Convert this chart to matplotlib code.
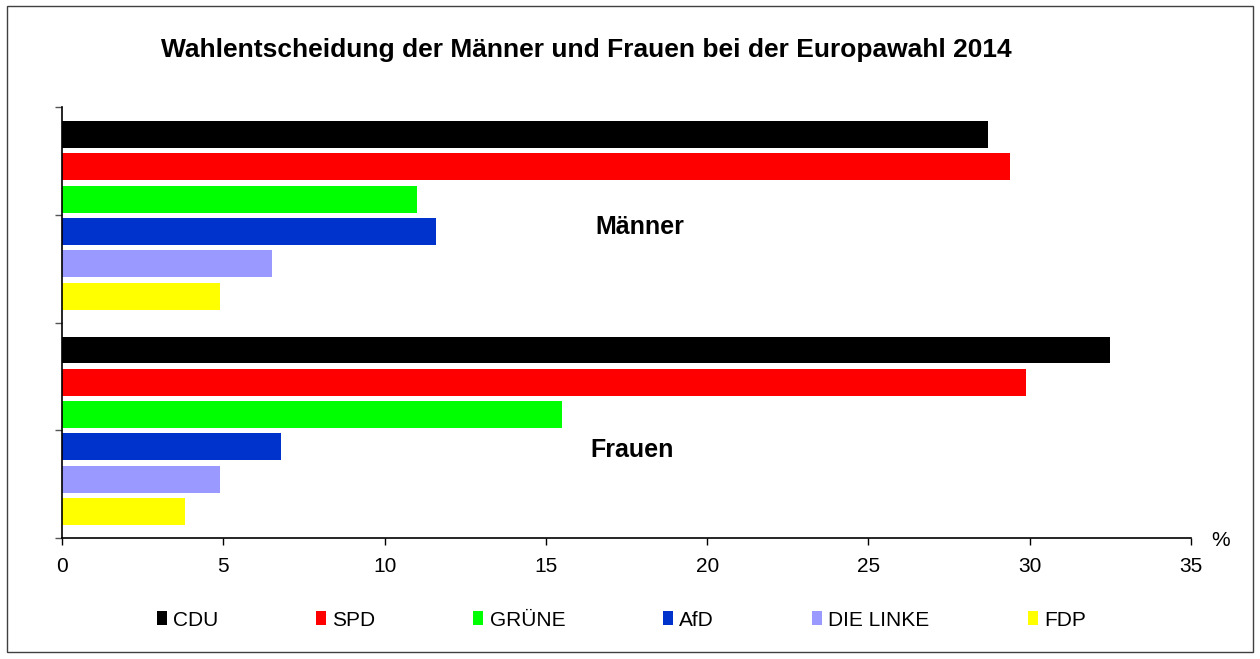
import numpy as np
import matplotlib
matplotlib.use("Agg")
import matplotlib.pyplot as plt
from matplotlib.patches import Rectangle

plt.rcParams["font.family"] = ["Liberation Sans", "DejaVu Sans"]

# data (percent of votes)
groups = ["Männer", "Frauen"]
parties = ["CDU", "SPD", "GRÜNE", "AfD", "DIE LINKE", "FDP"]
maenner = [28.7, 29.4, 11.0, 11.6, 6.5, 4.9]
frauen = [32.5, 29.9, 15.5, 6.8, 4.9, 3.8]
colors = ["#000000", "#FF0000", "#00FF00", "#0033CC", "#9999FF", "#FFFF00"]

fig = plt.figure(figsize=(12.6, 6.59), dpi=100)
ax = fig.add_axes([62 / 1260, 121 / 659, 1129 / 1260, 431 / 659])

# outer frame
fig.patches.append(Rectangle((7 / 1260, 7 / 659), 1246 / 1260, 646 / 659,
                             transform=fig.transFigure, fill=False,
                             edgecolor="#404040", linewidth=1.0))

pitch = 0.15
height = 0.125
first = 0.1275
for i, party in enumerate(parties):
    ypos = np.arange(len(groups)) + first + i * pitch
    ax.barh(ypos, [maenner[i], frauen[i]], height=height, color=colors[i],
            label=party, linewidth=0)

ax.set_xlim(0, 35)
ax.set_ylim(2, 0)
ax.set_xticks(np.arange(0, 36, 5))
ax.set_yticks([0, 0.5, 1, 1.5, 2])
ax.set_yticklabels([])
ax.tick_params(axis="x", direction="out", length=5, width=1, pad=9,
               labelsize=15)
ax.tick_params(axis="y", direction="out", length=5, width=1, color="#555555")
for s in ["top", "right"]:
    ax.spines[s].set_visible(False)
for s in ["left", "bottom"]:
    ax.spines[s].set_linewidth(1.2)

ax.text(17.9, 0.557, groups[0], fontsize=18, fontweight="bold",
        ha="center", va="center")
ax.text(17.67, 1.59, groups[1], fontsize=18, fontweight="bold",
        ha="center", va="center")

fig.text(1221 / 1260, (659 - 541) / 659, "%", fontsize=15,
         ha="center", va="center")
fig.text(0.4655, (659 - 50) / 659,
         "Wahlentscheidung der Männer und Frauen bei der Europawahl 2014",
         fontsize=19, fontweight="bold", ha="center", va="center")

fig.legend(loc="center", bbox_to_anchor=(0.493, (659 - 620) / 659), ncol=6,
           frameon=False, fontsize=15, handlelength=0.48, handleheight=0.69,
           handletextpad=0.3, columnspacing=4.7, borderpad=0)

fig.savefig("out.png", dpi=100)
